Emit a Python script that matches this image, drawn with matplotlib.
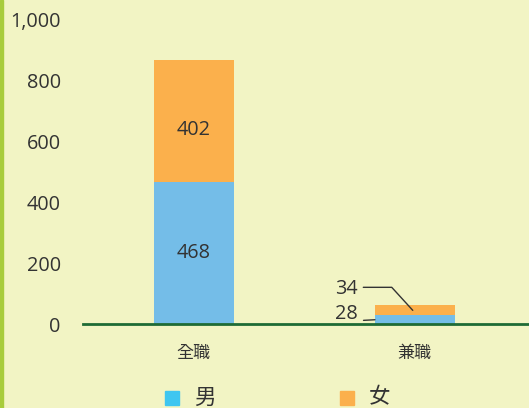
import matplotlib
matplotlib.use("Agg")
import matplotlib.pyplot as plt
from matplotlib.ticker import FuncFormatter
from matplotlib.patches import Rectangle

plt.rcParams["font.family"] = ["Open Sans", "Noto Sans CJK TC", "DejaVu Sans"]

categories = ["全職", "兼職"]
male = [468, 28]
female = [402, 34]
series_names = ["男", "女"]
y_ticks = [0, 200, 400, 600, 800, 1000]

bg_color = "#F2F4C4"
male_color = "#74BDE8"
female_color = "#FBB04C"
legend_male_color = "#3EC6F0"
text_color = "#333333"

fig = plt.figure(figsize=(5.29, 4.08), dpi=100, facecolor=bg_color)
ax = fig.add_axes([83 / 529, 84 / 408, 446 / 529, 304 / 408])
ax.set_facecolor(bg_color)

x = list(range(len(categories)))
width = 0.362
ax.bar(x, male, width=width, color=male_color)
ax.bar(x, female, width=width, bottom=male, color=female_color)

ax.set_xlim(-0.502, 1.516)
ax.set_ylim(0, 1000)
ax.set_yticks(y_ticks)
ax.yaxis.set_major_formatter(FuncFormatter(lambda v, p: f"{int(v):,}"))
ax.tick_params(axis="y", length=0, pad=16, labelsize=14.3, labelcolor=text_color)
ax.set_xticks(x)
ax.set_xticklabels(categories)
ax.tick_params(axis="x", length=0, pad=16, labelsize=12.3, labelcolor=text_color)
for side in ["left", "right", "top"]:
    ax.spines[side].set_visible(False)
ax.spines["bottom"].set_color("#1E6B35")
ax.spines["bottom"].set_linewidth(2)

# labels inside the big bar
ax.text(x[0], male[0] / 2, str(male[0]), ha="center", va="center",
        fontsize=14.3, color=text_color)
ax.annotate(str(female[0]), xy=(x[0], male[0] + female[0] / 2),
            xytext=(0, -9), textcoords="offset pixels",
            ha="center", va="center", fontsize=14.3, color=text_color)

# leader-line labels for the small bar
ax.annotate(
    str(female[1]),
    xy=(x[1] - 0.01, male[1] + female[1] / 2),
    xytext=(-55, 21), textcoords="offset pixels",
    ha="right", va="center", fontsize=14.3, color=text_color,
    arrowprops=dict(arrowstyle="-", color=text_color, lw=1,
                    relpos=(1, 0.6), shrinkA=2, shrinkB=0,
                    connectionstyle="arc,angleA=0,armA=34,angleB=0,armB=0,rad=0"),
)
ax.annotate(
    str(male[1]),
    xy=(x[1] - width / 2, male[1] / 2),
    xytext=(-17, 5.5), textcoords="offset pixels",
    ha="right", va="center", fontsize=14.3, color=text_color,
    arrowprops=dict(arrowstyle="-", color=text_color, lw=1,
                    relpos=(1, 0.18), shrinkA=2, shrinkB=0),
)

# legend
leg_colors = [legend_male_color, female_color]
leg_x = [165, 340]
for name, col, lx in zip(series_names, leg_colors, leg_x):
    fig.patches.append(Rectangle((lx / 529, 3 / 408), 14 / 529, 14 / 408,
                                 transform=fig.transFigure, color=col))
    fig.text((lx + 29) / 529, 10 / 408, name, ha="left", va="center",
             fontsize=15.5, color=text_color)

# green left border
fig.patches.append(Rectangle((0, 0), 3 / 529, 1, transform=fig.transFigure,
                             color="#A8CC3C"))

fig.savefig("out.png", dpi=100, facecolor=bg_color)
